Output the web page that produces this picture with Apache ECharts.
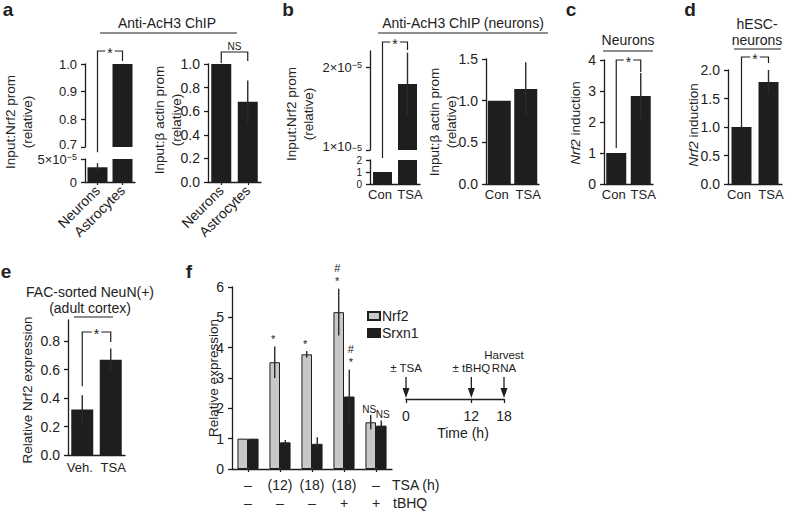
<!DOCTYPE html>
<html><head><meta charset="utf-8">
<script src="https://cdn.jsdelivr.net/npm/echarts@6/dist/echarts.min.js"></script>
<style>html,body{margin:0;padding:0;background:#fff}#c{width:788px;height:511px}</style>
</head><body><div id="c"></div><script>
// ================= DATA =================
// panel a
const aCats = ['Neurons', 'Astrocytes'];
const aNrf2Low = [3.2e-5, 5e-5];      // lower segment (astrocytes run through the axis break)
const aNrf2LowErr = [0.9e-5, 0];
const aNrf2High = [null, 1.0];         // upper segment
const aActin = [1.0, 0.68];
const aActinErr = [0, 0.18];
const aTicksHigh = [0.7, 0.8, 0.9, 1.0];
const aTicksLow = [0, 5e-5];
const aTicksActin = [0, 0.2, 0.4, 0.6, 0.8, 1.0];
// panel b
const bCats = ['Con', 'TSA'];
const bNrf2Low = [1, 2];
const bNrf2High = [null, 1.8e-5];
const bNrf2HighErr = [null, 0.38e-5];
const bTicksLow = [0, 1, 2];
const bTicksHigh = [1e-5, 2e-5];
const bActin = [1.0, 1.14];
const bActinErr = [0, 0.32];
const bTicksActin = [0, 0.5, 1.0, 1.5];
// panel c
const cCats = ['Con', 'TSA'];
const cNrf2 = [1.0, 2.84];
const cNrf2Err = [0, 0.74];
const cTicks = [0, 1, 2, 3, 4];
// panel d
const dCats = ['Con', 'TSA'];
const dNrf2 = [1.0, 1.79];
const dNrf2Err = [0.05, 0.21];
const dTicks = [0, 0.5, 1.0, 1.5, 2.0];
// panel e
const eCats = ['Veh.', 'TSA'];
const eNrf2 = [0.32, 0.67];
const eNrf2Err = [0.10, 0.08];
const eTicks = [0, 0.2, 0.4, 0.6, 0.8];
// panel f
const fTSA = ['–', '(12)', '(18)', '(18)', '–'];
const fTBHQ = ['–', '–', '–', '+', '+'];
const fNrf2 = [1.0, 3.52, 3.78, 5.17, 1.54];
const fNrf2Err = [0, 0.52, 0.11, 0.77, 0.24];
const fSrxn1 = [1.0, 0.88, 0.83, 2.39, 1.43];
const fSrxn1Err = [0, 0.08, 0.22, 0.88, 0.17];
const fNrf2Marks = ['', '*', '*', '#\n*', 'NS'];
const fSrxn1Marks = ['', '', '', '#\n*', 'NS'];
const fTicks = [0, 1, 2, 3, 4, 5, 6];
// timeline
const timePoints = [0, 12, 18];
const timeEvents = ['± TSA', '± tBHQ', 'Harvest\nRNA'];

// ================= STYLE / LAYOUT =================
const FONT = '"Liberation Sans", Arial, Helvetica, sans-serif';
const INK = '#1e1e1e';
const TXT = '#222';
const GREY = '#c8c8c8';
const G = {
  aUp:  {left: 85,  top: 64,  width: 50,  height: 83},
  aLow: {left: 85,  top: 159, width: 50,  height: 23},
  aR:   {left: 208, top: 64,  width: 53,  height: 118},
  bUp:  {left: 370, top: 51,  width: 50,  height: 99},
  bLow: {left: 370, top: 160, width: 50,  height: 24},
  bR:   {left: 486, top: 59,  width: 53,  height: 125},
  c:    {left: 604, top: 60,  width: 49,  height: 124},
  d:    {left: 728, top: 70,  width: 54,  height: 114},
  e:    {left: 68,  top: 320, width: 57,  height: 135},
  f:    {left: 232, top: 287, width: 160, height: 182},
  t:    {left: 406, top: 340, width: 98,  height: 59}
};
const order = Object.keys(G);
const gi = k => order.indexOf(k);

const RICH = {
  n:  {fontSize: 13, lineHeight: 14, color: TXT, fontFamily: FONT},
  s:  {fontSize: 9,  lineHeight: 8, verticalAlign: 'top', color: TXT, fontFamily: FONT},
  nl: {fontSize: 13, lineHeight: 14, padding: [0, 0, 8, 0], color: TXT, fontFamily: FONT},
  sl: {fontSize: 9,  lineHeight: 8, verticalAlign: 'top', padding: [0, 0, 8, 0], color: TXT, fontFamily: FONT},
  u:  {fontSize: 13, lineHeight: 14, padding: [0, 0, 6, 0], color: TXT, fontFamily: FONT},
  l:  {padding: [0, 5, 0, 0], fontSize: 13, color: TXT, fontFamily: FONT},
  r:  {padding: [0, 0, 0, 5], fontSize: 13, color: TXT, fontFamily: FONT}
};
const f1 = v => v.toFixed(1);
const fi = v => String(v);
const liftMin = (fmt, min) => v => (v === min ? '{u|' + fmt(v) + '}' : fmt(v));
function sciText(v, lift) {
  if (v === 0) return '0';
  const e = Math.floor(Math.log10(v) + 1e-9);
  const m = Math.round(v / Math.pow(10, e));
  return lift ? '{nl|' + m + '×10}{sl|−' + (-e) + '}' : '{n|' + m + '×10}{s|−' + (-e) + '}';
}
const sci = v => sciText(v, false);
const sciLiftMin = min => v => sciText(v, v === min);
const pairLabel = (v, i) => (i === 0 ? '{l|' + v + '}' : '{r|' + v + '}');

function xCat(key, cats, opt) {
  opt = opt || {};
  return {
    type: 'category', gridIndex: gi(key), data: cats, show: opt.show !== false,
    axisLine: {show: true, onZero: false, lineStyle: {color: INK, width: 1.3}},
    axisTick: {show: !!opt.ticks, alignWithLabel: true, length: 3, lineStyle: {color: INK, width: 1.2}},
    axisLabel: Object.assign({color: TXT, fontSize: 14, fontFamily: FONT, margin: 4, interval: 0, rich: RICH}, opt.label || {}),
    splitLine: {show: false}
  };
}
function yVal(key, min, max, ticks, fmt, size) {
  return {
    type: 'value', gridIndex: gi(key), min: min, max: max,
    axisLine: {show: true, lineStyle: {color: INK, width: 1.3}},
    axisTick: {show: true, length: 4, customValues: ticks, lineStyle: {color: INK, width: 1.3}},
    axisLabel: {customValues: ticks, formatter: fmt, color: TXT, fontSize: size || 14, fontFamily: FONT,
                margin: 8, rich: RICH, showMinLabel: true, showMaxLabel: true},
    splitLine: {show: false}
  };
}
function bar(key, data, width, name, style, extra) {
  return Object.assign({
    type: 'bar', name: name, xAxisIndex: gi(key), yAxisIndex: gi(key), data: data,
    barWidth: width, clip: true, silent: true,
    itemStyle: style || {color: INK}
  }, extra || {});
}
function errSeries(key, means, errs, shift) {
  return {
    type: 'custom', xAxisIndex: gi(key), yAxisIndex: gi(key), clip: true, z: 5, silent: true,
    data: means.map((m, i) => [i, m, errs[i]]).filter(d => d[1] != null && d[2]),
    renderItem(params, api) {
      const i = api.value(0), m = api.value(1), e = api.value(2);
      const band = api.size([1, 0])[0];
      const x = api.coord([i, m])[0] + shift * band;
      const yTop = api.coord([i, m + e])[1];
      const yBot = api.coord([i, m - e])[1];
      return {type: 'line', shape: {x1: x, y1: yBot, x2: x, y2: yTop},
              style: {stroke: '#2a2a2a', lineWidth: 1.4}};
    }
  };
}
function bracket(key, fromVal, cfg) {
  return {
    type: 'custom', xAxisIndex: gi(key), yAxisIndex: gi(key), silent: true, z: 6, clip: false,
    data: [[0, 1, fromVal]],
    renderItem(params, api) {
      const v = api.value(2);
      const xL = api.coord([api.value(0), v])[0];
      const xR = api.coord([api.value(1), v])[0];
      const y0 = api.coord([api.value(0), v])[1] - cfg.gap;
      const yT = cfg.top, yE = cfg.top + cfg.leg;
      const ns = cfg.text === 'NS';
      return {type: 'group', children: [
        {type: 'polyline', shape: {points: [[xL, y0], [xL, yT], [xR, yT], [xR, yE]]},
         style: {stroke: INK, lineWidth: 1.2, fill: 'none'}},
        {type: 'text', x: (xL + xR) / 2, y: ns ? yT - 1 : yT + 2,
         style: {text: cfg.text, align: 'center', verticalAlign: ns ? 'bottom' : 'middle',
                 fontSize: ns ? 10 : 14, fontFamily: FONT, fill: TXT,
                 backgroundColor: '#fff', padding: ns ? [0, 1] : [0, 2]}}
      ]};
    }
  };
}
function marks(key, means, errs, labels, shift, dx) {
  return {
    type: 'custom', xAxisIndex: gi(key), yAxisIndex: gi(key), silent: true, z: 7, clip: false,
    data: means.map((m, i) => [i, m + errs[i], i]).filter(d => labels[d[2]]),
    renderItem(params, api) {
      const txt = labels[api.value(2)];
      const band = api.size([1, 0])[0];
      const p = api.coord([api.value(0), api.value(1)]);
      const ns = txt === 'NS';
      return {type: 'text', x: p[0] + shift * band + dx, y: p[1] - 1,
        style: {text: txt, align: 'center', verticalAlign: 'bottom', fontSize: ns ? 10 : 11,
                lineHeight: ns ? 10 : 13, fontFamily: FONT, fill: TXT}};
    }
  };
}

// ================= OPTION =================
const grid = order.map(k => Object.assign({outerBoundsMode: 'none', containLabel: false}, G[k]));

const xAxis = [
  xCat('aUp', aCats, {show: false}),
  xCat('aLow', aCats, {ticks: true, label: {rotate: 45, margin: 6}}),
  xCat('aR', aCats, {ticks: true, label: {rotate: 45, margin: 6}}),
  xCat('bUp', bCats, {show: false}),
  xCat('bLow', bCats, {label: {formatter: pairLabel}}),
  xCat('bR', bCats, {label: {formatter: pairLabel}}),
  xCat('c', cCats, {label: {formatter: pairLabel}}),
  xCat('d', dCats, {label: {formatter: pairLabel}}),
  xCat('e', eCats, {label: {margin: 6, formatter: pairLabel}}),
  xCat('f', fTSA.map((t, i) => t + '\n' + fTBHQ[i]), {ticks: true, label: {lineHeight: 18, margin: 7}}),
  {
    type: 'value', gridIndex: gi('t'), min: 0, max: 18,
    name: 'Time (h)', nameLocation: 'middle', nameGap: 27,
    nameTextStyle: {color: TXT, fontSize: 14, fontFamily: FONT, padding: [0, 0, 0, 16]},
    axisLine: {show: true, onZero: false, lineStyle: {color: INK, width: 1.3}},
    axisTick: {show: true, length: 4, customValues: timePoints, lineStyle: {color: INK, width: 1.3}},
    axisLabel: {customValues: timePoints, color: TXT, fontSize: 14, fontFamily: FONT, margin: 10,
                showMinLabel: true, showMaxLabel: true},
    splitLine: {show: false}
  }
];
const yAxis = [
  yVal('aUp', 0.7, 1.0, aTicksHigh, liftMin(f1, 0.7), 13),
  yVal('aLow', 0, 5e-5, aTicksLow, sci, 13),
  yVal('aR', 0, 1.0, aTicksActin, f1),
  yVal('bUp', 1e-5, 2.2e-5, bTicksHigh, sciLiftMin(1e-5), 13),
  yVal('bLow', 0, 2, bTicksLow, fi, 10),
  yVal('bR', 0, 1.5, bTicksActin, f1),
  yVal('c', 0, 4, cTicks, fi),
  yVal('d', 0, 2, dTicks, f1),
  yVal('e', 0, 0.95, eTicks, f1),
  yVal('f', 0, 6, fTicks, fi),
  {type: 'value', gridIndex: gi('t'), min: 0, max: 1, show: false, splitLine: {show: false}}
];

const series = [
  bar('aUp', aNrf2High, 20, 'aHigh'),
  bar('aLow', aNrf2Low, 20, 'aLow'),
  bar('aR', aActin, 20, 'aActin'),
  bar('bUp', bNrf2High, 19, 'bHigh'),
  bar('bLow', bNrf2Low, 19, 'bLow'),
  bar('bR', bActin, 23, 'bActin'),
  bar('c', cNrf2, 20, 'cNrf2'),
  bar('d', dNrf2, 20, 'dNrf2'),
  bar('e', eNrf2, 22, 'eNrf2'),
  bar('f', fNrf2, null, 'Nrf2', {color: GREY, borderColor: INK, borderWidth: 1},
      {barWidth: undefined, barGap: '0%', barCategoryGap: '34%'}),
  bar('f', fSrxn1, null, 'Srxn1', {color: INK, borderColor: INK, borderWidth: 1},
      {barWidth: undefined, barGap: '0%', barCategoryGap: '34%'}),

  errSeries('aLow', aNrf2Low, aNrf2LowErr, 0),
  errSeries('aR', aActin, aActinErr, 0),
  errSeries('bUp', bNrf2High, bNrf2HighErr, 0),
  errSeries('bR', bActin, bActinErr, 0),
  errSeries('c', cNrf2, cNrf2Err, 0),
  errSeries('d', dNrf2, dNrf2Err, 0),
  errSeries('e', eNrf2, eNrf2Err, 0),
  errSeries('f', fNrf2, fNrf2Err, -0.165),
  errSeries('f', fSrxn1, fSrxn1Err, 0.165),

  bracket('aLow', aNrf2Low[0] + aNrf2LowErr[0], {top: 51, leg: 10, gap: 11, text: '*'}),
  bracket('aR', aActin[0] + aActinErr[0], {top: 52, leg: 9, gap: 1, text: 'NS'}),
  bracket('bLow', bNrf2Low[0], {top: 42, leg: 8, gap: 14, text: '*'}),
  bracket('c', cNrf2[0] + cNrf2Err[0], {top: 60, leg: 12, gap: 5, text: '*'}),
  bracket('d', dNrf2[0] + dNrf2Err[0], {top: 57, leg: 6, gap: 0, text: '*'}),
  bracket('e', eNrf2[0] + eNrf2Err[0], {top: 332, leg: 10, gap: 9, text: '*'}),

  marks('f', fNrf2, fNrf2Err, fNrf2Marks, -0.165, -1.5),
  marks('f', fSrxn1, fSrxn1Err, fSrxn1Marks, 0.165, 1.5),

  {
    type: 'custom', xAxisIndex: gi('t'), yAxisIndex: gi('t'), silent: true, clip: false, z: 5,
    data: timePoints.map((t, i) => [t, 0, i]),
    renderItem(params, api) {
      const p = api.coord([api.value(0), 0]);
      const x = p[0], y = p[1];
      const label = timeEvents[api.value(2)];
      return {type: 'group', children: [
        {type: 'line', shape: {x1: x, y1: y - 22, x2: x, y2: y - 9}, style: {stroke: INK, lineWidth: 1.3}},
        {type: 'polygon', shape: {points: [[x - 3.5, y - 11], [x + 3.5, y - 11], [x, y - 1]]}, style: {fill: INK}},
        {type: 'text', x: x, y: y - 25, style: {text: label, align: 'center', verticalAlign: 'bottom',
          fontSize: 11.5, lineHeight: 13, fontFamily: FONT, fill: TXT}}
      ]};
    }
  }
];

function T(text, x, y, o) {
  o = o || {};
  return {type: 'text', x: x, y: y, rotation: o.rot || 0, silent: true,
    style: Object.assign({text: text, align: o.align || 'center', verticalAlign: 'middle',
      fontSize: o.size || 14, fontFamily: FONT, fill: TXT, lineHeight: o.lh || 17,
      fontWeight: o.bold ? 'bold' : 'normal'}, o.style || {})};
}
function Ln(x1, y1, x2, y2) {
  return {type: 'line', silent: true, shape: {x1: x1, y1: y1, x2: x2, y2: y2}, style: {stroke: INK, lineWidth: 1.2}};
}
const R = Math.PI / 2;
const ital = {rich: {i: {fontStyle: 'italic', fontSize: 13.5, fontFamily: FONT, fill: TXT}}};
const graphic = [
  T('a', 8, 9, {bold: true, size: 19}),
  T('b', 288, 9, {bold: true, size: 19}),
  T('c', 571, 9, {bold: true, size: 19}),
  T('d', 690, 9, {bold: true, size: 19}),
  T('e', 6, 271, {bold: true, size: 19}),
  T('f', 189, 271, {bold: true, size: 19}),

  T('Anti-AcH3 ChIP', 167, 23), Ln(100, 33, 237, 33),
  T('Anti-AcH3 ChIP (neurons)', 463, 23), Ln(378, 33, 548, 33),
  T('Neurons', 628, 40), Ln(603, 51, 653, 51),
  T('hESC-', 757, 24), T('neurons', 757, 40), Ln(734, 49, 781, 49),
  T('FAC-sorted NeuN(+)', 90, 292), T('(adult cortex)', 90, 308), Ln(74, 317, 113, 317),

  T('Input:Nrf2 prom\n(relative)', 19, 122, {rot: R, size: 13.5}),
  T('Input:β actin prom\n(relative)', 168, 120, {rot: R, size: 13.5}),
  T('Input:Nrf2 prom\n(relative)', 300, 114, {rot: R, size: 13.5}),
  T('Input:β actin prom\n(relative)', 443, 122, {rot: R, size: 13.5}),
  T('{i|Nrf2} induction', 575, 123, {rot: R, size: 13.5, style: ital}),
  T('{i|Nrf2} induction', 693, 125, {rot: R, size: 13.5, style: ital}),
  T('Relative Nrf2 expression', 27, 390, {rot: R, size: 13.5}),
  T('Relative expression', 213, 378, {rot: R, size: 13.5}),

  T('TSA (h)', 392, 485, {align: 'left'}),
  T('tBHQ', 393, 503, {align: 'left'})
];

const option = {
  animation: false,
  backgroundColor: '#fff',
  textStyle: {fontFamily: FONT, color: TXT},
  legend: {
    data: ['Nrf2', 'Srxn1'], orient: 'vertical', left: 362, top: 304,
    icon: 'rect', itemWidth: 12, itemHeight: 8, itemGap: 3, selectedMode: false,
    textStyle: {fontSize: 14, fontFamily: FONT, color: TXT, padding: [0, 0, 0, -3]}
  },
  grid: grid, xAxis: xAxis, yAxis: yAxis, series: series, graphic: graphic
};
const chart = echarts.init(document.getElementById('c'), null, {renderer: 'svg'});
chart.setOption(option);
</script></body></html>
